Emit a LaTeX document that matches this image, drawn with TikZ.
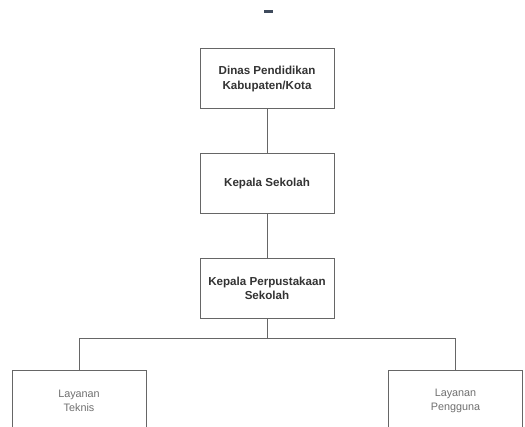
\documentclass[tikz,border=0pt]{standalone}
\usepackage{fontspec}
\setmainfont{Liberation Sans}
\usepackage{xcolor}
\definecolor{linegray}{HTML}{666666}
\definecolor{txtdark}{HTML}{333333}
\definecolor{txtlight}{HTML}{707070}
\definecolor{dashblue}{HTML}{3E4A5C}
\tikzset{
  unitbox/.style={draw=linegray, line width=1pt, fill=white, minimum width=134pt,
    minimum height=60pt, align=center, inner sep=2pt},
  headbox/.style={unitbox, font=\fontsize{11.6}{14.5}\selectfont\bfseries, text=txtdark},
  servbox/.style={unitbox, font=\fontsize{10.8}{13.5}\selectfont, text=txtlight},
  link/.style={draw=linegray, line width=1pt}
}
\begin{document}
\begin{tikzpicture}[x=1pt, y=-1pt]
    \clip (0,0) rectangle (525,427);
    \fill[white] (0,0) rectangle (525,427);
    \fill[dashblue] (264,10) rectangle (273,12.7);
    \node[headbox] (dinas) at (267,79) {Dinas Pendidikan\\Kabupaten/Kota};
    \node[headbox] (kepsek) at (267,183.5) {Kepala Sekolah};
    \node[headbox] (kepus) at (267,288.5) {Kepala Perpustakaan\\Sekolah};
    \node[servbox] (teknis) at (79,401) {Layanan\\Teknis};
    \node[servbox] (pengguna) at (455.5,401) {Layanan\\Pengguna};
    \coordinate (bus) at (267,339);
    \coordinate (busL) at (teknis.north |- bus);
    \coordinate (busR) at (pengguna.north |- bus);
    \draw[link] (dinas) -- (kepsek);
    \draw[link] (kepsek) -- (kepus);
    \draw[link] (kepus) -- (bus);
    \draw[link] (teknis) -- (busL) -- (busR) -- (pengguna);
  \end{tikzpicture}
\end{document}
